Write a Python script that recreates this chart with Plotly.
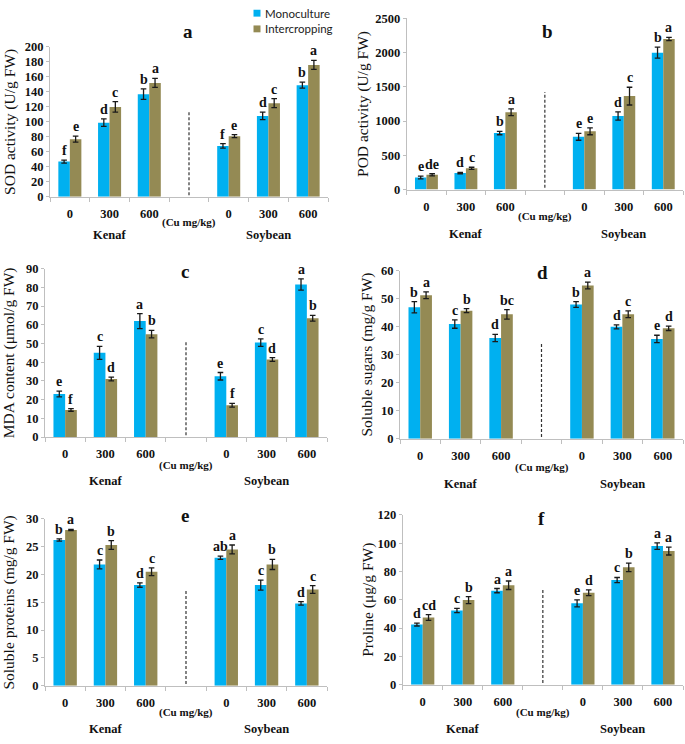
import plotly.graph_objects as go

W, H = 685, 744

# ---------------- data ----------------
dose_labels = ["0", "300", "600"]
crop_labels = ["Kenaf", "Soybean"]
series_names = ["Monoculture", "Intercropping"]
unit_label = "(Cu mg/kg)"
panel_letters = ["a", "b", "c", "d", "e", "f"]
y_titles = ["SOD activity (U/g FW)", "POD activity (U/g FW)", "MDA content (μmol/g FW)",
            "Soluble sugars (mg/g FW)", "Soluble proteins (mg/g FW)", "Proline (μg/g FW)"]

# order of every list: Kenaf 0, 300, 600, Soybean 0, 300, 600
sod_mono = [47, 99, 137, 68, 108, 149]
sod_mono_err = [2, 5, 7, 3, 5, 4]
sod_inter = [77, 120, 152, 81, 125, 176]
sod_inter_err = [4, 7, 6, 2, 6, 6]
sod_mono_sig = ["f", "d", "b", "f", "d", "b"]
sod_inter_sig = ["e", "c", "a", "e", "c", "a"]

pod_mono = [175, 240, 825, 770, 1075, 2000]
pod_mono_err = [20, 10, 25, 50, 60, 80]
pod_inter = [215, 310, 1130, 850, 1365, 2200]
pod_inter_err = [15, 15, 50, 50, 130, 25]
pod_mono_sig = ["e", "d", "b", "e", "d", "b"]
pod_inter_sig = ["de", "c", "a", "e", "c", "a"]

mda_mono = [23, 45, 62, 32.5, 50.5, 81.5]
mda_mono_err = [1.5, 3.5, 4, 2, 2, 3]
mda_inter = [14.5, 31, 55, 17, 41.5, 63.5]
mda_inter_err = [0.7, 1, 2, 1, 1, 1.5]
mda_mono_sig = ["e", "c", "a", "e", "c", "a"]
mda_inter_sig = ["f", "d", "b", "f", "d", "b"]

sugar_mono = [47, 41, 36, 48, 40, 35.7]
sugar_mono_err = [2, 1.5, 1.3, 1, 0.7, 1.3]
sugar_inter = [51.3, 45.8, 44.5, 54.8, 44.5, 39.5]
sugar_inter_err = [1.2, 0.7, 1.7, 1.2, 1.2, 0.8]
sugar_mono_sig = ["b", "c", "d", "b", "d", "e"]
sugar_inter_sig = ["a", "b", "bc", "a", "c", "d"]

protein_mono = [26.2, 21.8, 18.1, 23.0, 18.1, 14.8]
protein_mono_err = [0.2, 0.8, 0.4, 0.3, 0.9, 0.3]
protein_inter = [28.0, 25.3, 20.5, 24.5, 21.8, 17.3]
protein_inter_err = [0.1, 0.8, 0.7, 0.8, 0.9, 0.7]
protein_mono_sig = ["b", "c", "d", "ab", "c", "d"]
protein_inter_sig = ["a", "b", "c", "a", "b", "c"]

proline_mono = [42.5, 52.5, 66.5, 57.5, 74, 98]
proline_mono_err = [1, 1.5, 1.5, 2.5, 1.8, 2.3]
proline_inter = [47.5, 59.8, 70.3, 65, 83, 94.5]
proline_inter_err = [2, 2.5, 3, 2, 3, 2.8]
proline_mono_sig = ["d", "c", "a", "e", "c", "a"]
proline_inter_sig = ["cd", "b", "a", "d", "b", "a"]

y_max = [200, 2500, 90, 60, 30, 120]
y_dtick = [20, 500, 10, 10, 5, 20]

panel_data = [
    (sod_mono, sod_mono_err, sod_inter, sod_inter_err, sod_mono_sig, sod_inter_sig),
    (pod_mono, pod_mono_err, pod_inter, pod_inter_err, pod_mono_sig, pod_inter_sig),
    (mda_mono, mda_mono_err, mda_inter, mda_inter_err, mda_mono_sig, mda_inter_sig),
    (sugar_mono, sugar_mono_err, sugar_inter, sugar_inter_err, sugar_mono_sig, sugar_inter_sig),
    (protein_mono, protein_mono_err, protein_inter, protein_inter_err, protein_mono_sig, protein_inter_sig),
    (proline_mono, proline_mono_err, proline_inter, proline_inter_err, proline_mono_sig, proline_inter_sig),
]

# ---------------- style / layout ----------------
COL_MONO = "#00B0F0"
COL_INTER = "#948A54"
AXIS_COL = "#BFBFBF"
SERIF = "Liberation Serif, Times New Roman, serif"
SANS = "Lato, Open Sans, sans-serif"
BARGAP = 0.42

geo = [  # pixel geometry of each panel
    dict(x0=50, x1=328, yt=40.7, yb=193.5, tx=10, lx=188, ly=25, unit_dy=25.5, crop_dy=38.5),
    dict(x0=406.7, x1=683, yt=11.7, yb=186, tx=363, lx=547, ly=25, unit_dy=27, crop_dy=44),
    dict(x0=45, x1=327, yt=266.7, yb=438.3, tx=9.3, lx=185, ly=270, unit_dy=28, crop_dy=44),
    dict(x0=400, x1=683, yt=269, yb=440, tx=366.7, lx=542, ly=270.5, unit_dy=29, crop_dy=45),
    dict(x0=45, x1=327, yt=521.7, yb=691.7, tx=9.3, lx=185, ly=518, unit_dy=27, crop_dy=43),
    dict(x0=402.7, x1=683, yt=517.7, yb=690.7, tx=368, lx=541.7, ly=521.7, unit_dy=28, crop_dy=44),
]
legend_pos = dict(x=257, y0=6.3, dy=16, size=7, text_gap=6)

# slot positions: Kenaf doses, an empty slot, Soybean doses
n_d = len(dose_labels)
slot_x = [ci * (n_d + 1) + di for ci in range(len(crop_labels)) for di in range(n_d)]
slot_labels = [d for _ in crop_labels for d in dose_labels]
n_slots = len(crop_labels) * (n_d + 1) - 1
gap_slot = n_d
crop_centers = [ci * (n_d + 1) + (n_d - 1) / 2 for ci in range(len(crop_labels))]
bar_off = (1 - BARGAP) / 4

fig = go.Figure()
annotations = []
shapes = []

for i, (mono, mono_e, inter, inter_e, mono_s, inter_s) in enumerate(panel_data):
    n = i + 1
    xa = "x" if n == 1 else f"x{n}"
    ya = "y" if n == 1 else f"y{n}"
    g = geo[i]
    for name, vals, errs, col, sig, off in [
        (series_names[0], mono, mono_e, COL_MONO, mono_s, -bar_off),
        (series_names[1], inter, inter_e, COL_INTER, inter_s, bar_off),
    ]:
        fig.add_trace(go.Bar(
            x=slot_x, y=vals, name=name, marker=dict(color=col, line=dict(width=0)),
            error_y=dict(type="data", array=errs, color="#1a1a1a", thickness=1.3, width=2.8),
            xaxis=xa, yaxis=ya, showlegend=False, legendgroup=name,
        ))
        for xv, v, e, s in zip(slot_x, vals, errs, sig):
            annotations.append(dict(
                x=xv + off, y=v + e, xref=xa, yref=ya, text=s, showarrow=False,
                yanchor="bottom", yshift=0,
                font=dict(family=SERIF, size=14, color="#111", weight="bold"),
            ))

    dom_x = [g["x0"] / W, g["x1"] / W]
    dom_y = [1 - g["yb"] / H, 1 - g["yt"] / H]
    fig.layout[f"xaxis{'' if n == 1 else n}"] = dict(
        domain=dom_x, range=[-0.5, n_slots - 0.5], anchor=ya,
        tickvals=slot_x, ticktext=slot_labels, ticks="outside", ticklen=5,
        tickcolor="rgba(0,0,0,0)",
        minor=dict(tickvals=[k - 0.5 for k in range(n_slots + 1)], ticks="outside",
                   ticklen=4, tickcolor=AXIS_COL, tickwidth=1),
        showline=True, linecolor=AXIS_COL, linewidth=1, showgrid=False, zeroline=False,
        tickfont=dict(family=SERIF, size=12.5, color="#111", weight="bold"),
        fixedrange=True,
    )
    fig.layout[f"yaxis{'' if n == 1 else n}"] = dict(
        domain=dom_y, range=[0, y_max[i]], dtick=y_dtick[i], anchor=xa,
        ticks="outside", ticklen=3, tickcolor=AXIS_COL,
        showline=True, linecolor=AXIS_COL, linewidth=1, showgrid=False, zeroline=False,
        tickfont=dict(family=SERIF, size=12.5, color="#111", weight="bold"),
        fixedrange=True,
    )
    annotations.append(dict(
        x=g["tx"] / W, y=0.5, xref="paper", yref=f"{ya} domain", text=y_titles[i],
        textangle=-90, showarrow=False, xanchor="center", yanchor="middle",
        font=dict(family=SERIF, size=15.5, color="#111"),
    ))
    annotations.append(dict(
        x=g["lx"] / W, y=1 - g["ly"] / H, xref="paper", yref="paper", text=panel_letters[i],
        showarrow=False, xanchor="center", yanchor="middle",
        font=dict(family=SERIF, size=19, color="#111", weight="bold"),
    ))
    annotations.append(dict(
        x=gap_slot, y=0, xref=xa, yref=f"{ya} domain", text=unit_label, showarrow=False,
        xanchor="center", yanchor="middle", yshift=-g["unit_dy"],
        font=dict(family=SERIF, size=11, color="#111", weight="bold"),
    ))
    for cx, cl in zip(crop_centers, crop_labels):
        annotations.append(dict(
            x=cx, y=0, xref=xa, yref=f"{ya} domain", text=cl, showarrow=False,
            xanchor="center", yanchor="middle", yshift=-g["crop_dy"],
            font=dict(family=SERIF, size=12.5, color="#111", weight="bold"),
        ))
    shapes.append(dict(
        type="line", xref=xa, yref=f"{ya} domain", x0=gap_slot, x1=gap_slot, y0=0.01, y1=0.57,
        line=dict(color="#333", width=1.2, dash="3px,2px"),
    ))

# compact legend (key squares + names) at the top of panel a
for k, (name, col) in enumerate(zip(series_names, [COL_MONO, COL_INTER])):
    cy = legend_pos["y0"] + k * legend_pos["dy"]
    s = legend_pos["size"] / 2
    shapes.append(dict(
        type="rect", xref="paper", yref="paper",
        x0=(legend_pos["x"] - s) / W, x1=(legend_pos["x"] + s) / W,
        y0=1 - (cy + s) / H, y1=1 - (cy - s) / H,
        fillcolor=col, line=dict(width=0),
    ))
    annotations.append(dict(
        x=(legend_pos["x"] + s + legend_pos["text_gap"] - 4) / W, y=1 - cy / H,
        xref="paper", yref="paper", text=name, showarrow=False,
        xanchor="left", yanchor="middle",
        font=dict(family=SANS, size=11.5, color="#222"),
    ))

fig.update_layout(
    width=W, height=H, margin=dict(l=0, r=0, t=0, b=0),
    paper_bgcolor="white", plot_bgcolor="white",
    barmode="group", bargap=BARGAP, bargroupgap=0,
    annotations=annotations, shapes=shapes,
    showlegend=False,
)

fig.write_html("out.html", config={"displayModeBar": False},
               post_script="document.body.style.margin='0';")
